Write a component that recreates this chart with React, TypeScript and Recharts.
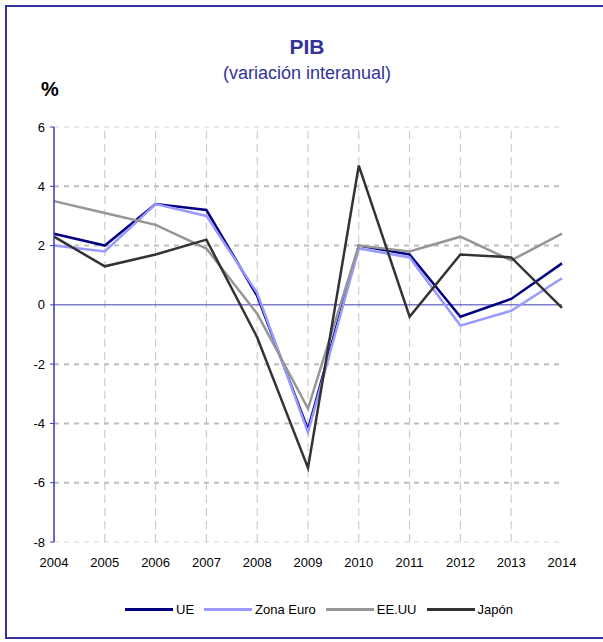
import { LineChart, Line, XAxis, YAxis, ReferenceLine } from 'recharts'

const years = ['2004', '2005', '2006', '2007', '2008', '2009', '2010', '2011', '2012', '2013', '2014']
const ue = [2.4, 2.0, 3.4, 3.2, 0.3, -4.2, 2.0, 1.7, -0.4, 0.2, 1.4]
const zonaEuro = [2.0, 1.8, 3.4, 3.0, 0.4, -4.3, 1.9, 1.6, -0.7, -0.2, 0.9]
const eeuu = [3.5, 3.1, 2.7, 1.9, -0.3, -3.5, 2.0, 1.8, 2.3, 1.5, 2.4]
const japon = [2.3, 1.3, 1.7, 2.2, -1.1, -5.5, 4.7, -0.4, 1.7, 1.6, -0.1]
const yTicks = [-8, -6, -4, -2, 0, 2, 4, 6]

const FONT = 'Arial, "Liberation Sans", sans-serif'
const NAVY = '#333399'

const series = [
  { key: 'ue', name: 'UE', color: '#000080' },
  { key: 'zonaEuro', name: 'Zona Euro', color: '#9999ff' },
  { key: 'eeuu', name: 'EE.UU', color: '#969696' },
  { key: 'japon', name: 'Japón', color: '#333333' },
]

const data = years.map((year, i) => ({
  year,
  ue: ue[i],
  zonaEuro: zonaEuro[i],
  eeuu: eeuu[i],
  japon: japon[i],
}))

const innerTicks = yTicks.slice(1, -1).filter((t) => t !== 0)
const edgeTicks = [yTicks[0], yTicks[yTicks.length - 1]]

function LegendRow() {
  return (
    <div
      style={{
        position: 'absolute',
        left: 118,
        top: 595,
        display: 'flex',
        alignItems: 'center',
        fontFamily: FONT,
        fontSize: 13,
        color: '#000',
      }}
    >
      {series.map((s) => (
        <div key={s.key} style={{ display: 'flex', alignItems: 'center', marginRight: 10 }}>
          <div style={{ width: 48, height: 3, background: s.color, marginRight: 3 }} />
          <span>{s.name}</span>
        </div>
      ))}
    </div>
  )
}

export default function App() {
  return (
    <div
      style={{
        position: 'absolute',
        left: 5,
        top: 5,
        width: 610,
        height: 634,
        border: `2px solid ${NAVY}`,
        boxSizing: 'border-box',
        background: '#fff',
        overflow: 'hidden',
      }}
    >
      <div
        style={{
          position: 'absolute',
          left: 0,
          width: 600,
          top: 28,
          textAlign: 'center',
          fontFamily: FONT,
          color: NAVY,
        }}
      >
        <div style={{ fontSize: 21, fontWeight: 'bold', lineHeight: '24px' }}>PIB</div>
        <div style={{ fontSize: 18, lineHeight: '20px', marginTop: 4 }}>(variación interanual)</div>
      </div>
      <div
        style={{
          position: 'absolute',
          left: 34,
          top: 71,
          fontFamily: FONT,
          fontSize: 20,
          fontWeight: 'bold',
          color: '#000',
        }}
      >
        %
      </div>
      <div style={{ position: 'absolute', left: 0, top: 0 }}>
        <LineChart width={590} height={630} data={data} margin={{ top: 120, right: 35, left: 7, bottom: 65 }}>
          {edgeTicks.map((t) => (
            <ReferenceLine key={'e' + t} y={t} stroke="#d4d4d4" strokeWidth={1} strokeDasharray="5 5" />
          ))}
          {innerTicks.map((t) => (
            <ReferenceLine key={'h' + t} y={t} stroke="#bdbdbd" strokeWidth={2} strokeDasharray="5 5" />
          ))}
          {years.slice(1, -1).map((y) => (
            <ReferenceLine key={'v' + y} x={y} stroke="#c4c4c4" strokeWidth={1} strokeDasharray="8 5" />
          ))}
          <ReferenceLine y={0} stroke="#3b3bb0" strokeWidth={1} />
          <XAxis
            dataKey="year"
            axisLine={false}
            tickLine={false}
            tickMargin={10}
            interval={0}
            height={30}
            tick={{ fill: '#000', fontSize: 13, fontFamily: FONT }}
          />
          <YAxis
            domain={[-8, 6]}
            ticks={yTicks}
            interval={0}
            width={40}
            tickSize={4}
            tickMargin={5}
            axisLine={{ stroke: '#3b3bb0', strokeWidth: 1.5 }}
            tickLine={{ stroke: '#3b3bb0', strokeWidth: 1 }}
            tick={{ fill: '#000', fontSize: 13, fontFamily: FONT }}
          />
          {series.map((s) => (
            <Line
              key={s.key}
              type="linear"
              dataKey={s.key}
              name={s.name}
              stroke={s.color}
              strokeWidth={2.5}
              dot={false}
              activeDot={false}
              isAnimationActive={false}
            />
          ))}
        </LineChart>
        <LegendRow />
      </div>
    </div>
  )
}
